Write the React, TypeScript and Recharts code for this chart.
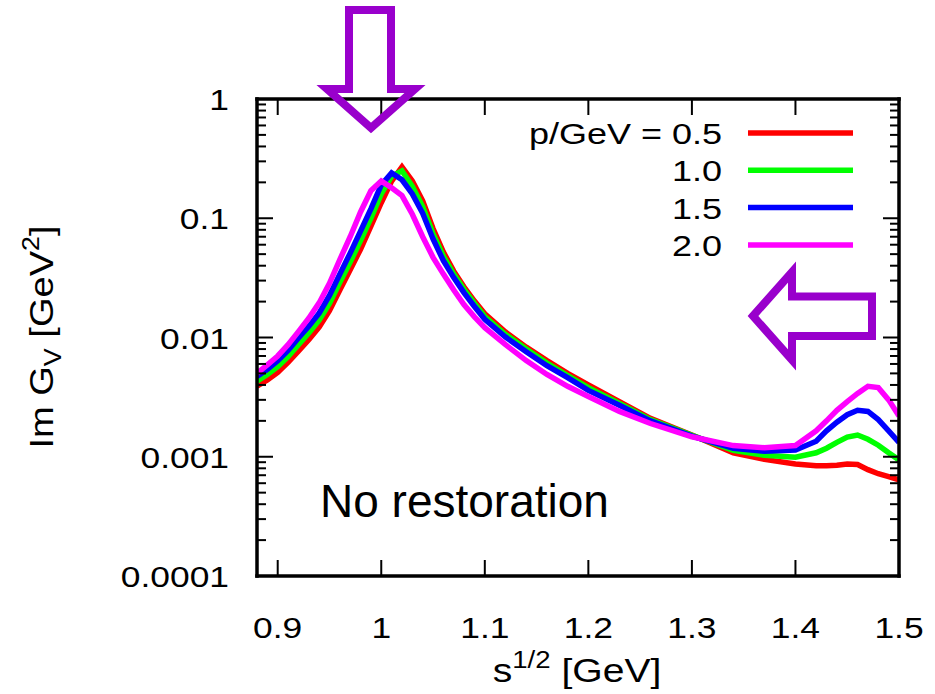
import { LineChart, Line, XAxis, YAxis, Legend } from "recharts";

// s^{1/2} [GeV]
const sValues = [
  0.88, 0.89, 0.9, 0.91, 0.92, 0.93, 0.94, 0.95, 0.96, 0.97, 0.98, 0.99, 1.0, 1.01, 1.02, 1.03, 1.04,
  1.05, 1.06, 1.07, 1.08, 1.09, 1.1, 1.12, 1.14, 1.16, 1.18, 1.2, 1.23, 1.26, 1.3, 1.34, 1.37, 1.4,
  1.42, 1.43, 1.44, 1.45, 1.46, 1.47, 1.48, 1.49, 1.5,
];

// Im G_V [GeV^2] for each momentum
const imG05 = [
  0.0039, 0.0044, 0.0051, 0.0062, 0.0077, 0.0096, 0.0122, 0.0168, 0.025, 0.037, 0.055, 0.086, 0.135,
  0.205, 0.27, 0.205, 0.14, 0.082, 0.052, 0.036, 0.0265, 0.0202, 0.0158, 0.0111, 0.0083, 0.0064,
  0.0050, 0.0040, 0.0029, 0.0021, 0.00152, 0.00108, 0.00095, 0.00087, 0.00084, 0.00084, 0.00085,
  0.00087, 0.00086, 0.00078, 0.00072, 0.00068, 0.00064,
];
const imG10 = [
  0.0043, 0.0049, 0.0057, 0.0069, 0.0087, 0.0109, 0.014, 0.0193, 0.029, 0.043, 0.065, 0.1, 0.16, 0.225,
  0.25, 0.185, 0.125, 0.074, 0.048, 0.034, 0.0252, 0.0193, 0.015, 0.0106, 0.008, 0.0061, 0.0048,
  0.0038, 0.0028, 0.00205, 0.00151, 0.00113, 0.00103, 0.00099, 0.00108, 0.00118, 0.00132, 0.00146,
  0.00152, 0.0014, 0.00125, 0.00108, 0.00094,
];
const imG15 = [
  0.0047, 0.0054, 0.0064, 0.0078, 0.0099, 0.0124, 0.016, 0.0225, 0.034, 0.051, 0.078, 0.12, 0.19, 0.24,
  0.21, 0.16, 0.11, 0.067, 0.044, 0.0318, 0.0237, 0.0182, 0.0142, 0.0101, 0.0076, 0.0058, 0.0046,
  0.0036, 0.0027, 0.002, 0.00149, 0.00118, 0.00111, 0.00114, 0.00135, 0.00165, 0.00195, 0.00225,
  0.00245, 0.0024, 0.00205, 0.00165, 0.00132,
];
const imG20 = [
  0.005, 0.0059, 0.007, 0.0087, 0.0112, 0.0145, 0.0195, 0.0285, 0.045, 0.07, 0.113, 0.17, 0.205, 0.18,
  0.155, 0.108, 0.07, 0.047, 0.034, 0.025, 0.0188, 0.0149, 0.0121, 0.0087, 0.0064, 0.0049, 0.0039,
  0.0032, 0.0024, 0.0019, 0.00147, 0.00124, 0.00119, 0.00124, 0.00165, 0.002, 0.00245, 0.0029,
  0.0034, 0.0039, 0.0038, 0.003, 0.0022,
];

const seriesKeys = ["p05", "p10", "p15", "p20"];
const seriesNames = ["p/GeV = 0.5", "1.0", "1.5", "2.0"];
const seriesColors = ["#ff0000", "#00ff00", "#0000ff", "#ff00ff"];

const xTicks = [0.9, 1, 1.1, 1.2, 1.3, 1.4, 1.5];
const xTickLabels = ["0.9", "1", "1.1", "1.2", "1.3", "1.4", "1.5"];
const yMajorTicks = [0.0001, 0.001, 0.01, 0.1, 1];
const yTickLabels = ["0.0001", "0.001", "0.01", "0.1", "1"];
const yMinorSteps = [2, 3, 4, 5, 6, 7, 8, 9];
const yMinorTicks = yMajorTicks.slice(0, -1).flatMap((d) => yMinorSteps.map((m) => m * d));

const data = sValues.map((s, i) => ({
  s,
  p05: imG05[i],
  p10: imG10[i],
  p15: imG15[i],
  p20: imG20[i],
}));

const W = 935;
const H = 694;
const PLOT = { left: 257, top: 99, right: 899, bottom: 576 };
const FONT = "'Liberation Sans', Arial, Helvetica, sans-serif";
const PURPLE = "#9900cc";
const frameLine = { stroke: "#000", strokeWidth: 3.5, strokeLinecap: "square" as const };
const X_DOMAIN = [0.88, 1.5];
const Y_DOMAIN = [0.0001, 1];

// bottom tick: label below, inward marks on bottom and top edges
const BottomTick = (props: any) => {
  const { x, payload } = props;
  const idx = xTicks.indexOf(payload.value);
  return (
    <g>
      <line x1={x} x2={x} y1={PLOT.bottom - 1} y2={PLOT.bottom - 16} stroke="#000" strokeWidth={2} />
      <line x1={x} x2={x} y1={PLOT.top + 1} y2={PLOT.top + 16} stroke="#000" strokeWidth={2} />
      <text
        transform={`translate(${x},${PLOT.bottom + 62}) scale(1.18,1)`}
        textAnchor="middle"
        fontSize={30}
        fontFamily={FONT}
        fill="#000"
      >
        {xTickLabels[idx]}
      </text>
    </g>
  );
};

// left tick: label for decades, inward marks on left and right edges
const LeftTick = (props: any) => {
  const { y, payload } = props;
  const idx = yMajorTicks.indexOf(payload.value);
  const len = idx >= 0 ? 16 : 9;
  return (
    <g>
      <line x1={PLOT.left + 1} x2={PLOT.left + len} y1={y} y2={y} stroke="#000" strokeWidth={2} />
      <line x1={PLOT.right - 1} x2={PLOT.right - len} y1={y} y2={y} stroke="#000" strokeWidth={2} />
      {idx >= 0 && (
        <text
          transform={`translate(${PLOT.left - 28},${y + 11}) scale(1.18,1)`}
          textAnchor="end"
          fontSize={30}
          fontFamily={FONT}
          fill="#000"
        >
          {yTickLabels[idx]}
        </text>
      )}
    </g>
  );
};

const renderLegend = (props: any) => {
  const items = [...(props.payload || [])].sort(
    (a: any, b: any) => seriesNames.indexOf(a.value) - seriesNames.indexOf(b.value)
  );
  return (
    <svg width={W} height={300} style={{ display: "block" }}>
      {items.map((entry: any, i: number) => {
        const cy = 133 + i * 37.3;
        return (
          <g key={`leg-${i}`}>
            <text
              transform={`translate(722,${cy + 11}) scale(1.2,1)`}
              textAnchor="end"
              fontSize={30}
              fontFamily={FONT}
              fill="#000"
            >
              {entry.value}
            </text>
            <line x1={748} x2={853} y1={cy} y2={cy} stroke={entry.color} strokeWidth={5.5} />
          </g>
        );
      })}
    </svg>
  );
};

export default function App() {
  return (
    <div style={{ position: "absolute", left: 0, top: 0, width: W, height: H, background: "#fff" }}>
      <LineChart
        width={W}
        height={H}
        data={data}
        margin={{ top: PLOT.top, right: W - PLOT.right, bottom: H - PLOT.bottom - 40, left: PLOT.left - 60 }}
      >
        <XAxis
          dataKey="s"
          type="number"
          domain={X_DOMAIN}
          allowDataOverflow
          ticks={xTicks}
          interval={0}
          tick={BottomTick}
          tickLine={false}
          axisLine={frameLine}
          height={40}
        />
        <XAxis
          xAxisId="top"
          orientation="top"
          mirror
          type="number"
          domain={X_DOMAIN}
          allowDataOverflow
          tick={false}
          tickLine={false}
          axisLine={frameLine}
        />
        <YAxis
          type="number"
          scale="log"
          domain={Y_DOMAIN}
          allowDataOverflow
          ticks={[...yMajorTicks, ...yMinorTicks]}
          interval={0}
          tick={LeftTick}
          tickLine={false}
          axisLine={frameLine}
          width={60}
        />
        <YAxis
          yAxisId="right"
          orientation="right"
          mirror
          type="number"
          scale="log"
          domain={Y_DOMAIN}
          allowDataOverflow
          tick={false}
          tickLine={false}
          axisLine={frameLine}
        />
        {seriesKeys.map((k, i) => (
          <Line
            key={k}
            type="linear"
            dataKey={k}
            name={seriesNames[i]}
            stroke={seriesColors[i]}
            strokeWidth={5.5}
            dot={false}
            isAnimationActive={false}
          />
        ))}
        <Legend
          content={renderLegend}
          layout="horizontal"
          verticalAlign="middle"
          align="center"
          wrapperStyle={{ left: 0, top: 0, width: W, height: 300 }}
        />
      </LineChart>
      <svg
        width={W}
        height={H}
        style={{ position: "absolute", left: 0, top: 0, pointerEvents: "none" }}
      >
        <text x={320} y={517} fontSize={46} fontFamily={FONT} fill="#000">
          No restoration
        </text>
        <text
          transform="translate(53,337) rotate(-90) scale(1.12,1)"
          textAnchor="middle"
          fontSize={34}
          fontFamily={FONT}
          fill="#000"
        >
          Im G
          <tspan fontSize={24} dy={8}>V</tspan>
          <tspan dy={-8}> [GeV</tspan>
          <tspan fontSize={24} dy={-14}>2</tspan>
          <tspan dy={14}>]</tspan>
        </text>
        <text
          transform="translate(577,682) scale(1.15,1)"
          textAnchor="middle"
          fontSize={34}
          fontFamily={FONT}
          fill="#000"
        >
          s<tspan fontSize={24} dy={-14}>1/2</tspan>
          <tspan dy={14}> [GeV]</tspan>
        </text>
        <polygon
          points="349,10 391,10 391,89 415,89 371,128 327,89 349,89"
          fill="none"
          stroke={PURPLE}
          strokeWidth={8}
        />
        <polygon
          points="753,316 792,272 792,296.5 872,296.5 872,336 792,336 792,360"
          fill="none"
          stroke={PURPLE}
          strokeWidth={8}
        />
      </svg>
    </div>
  );
}
